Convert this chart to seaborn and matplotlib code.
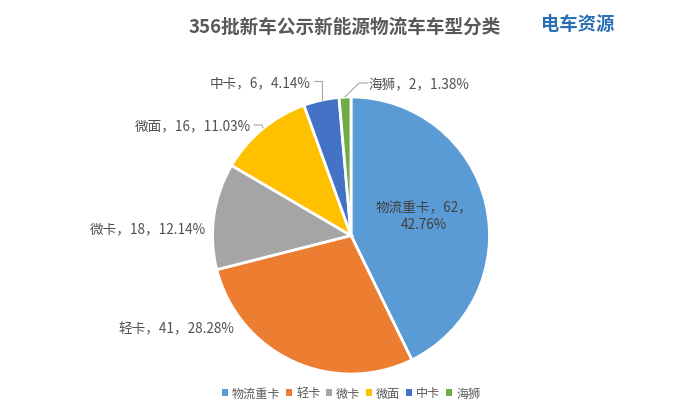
import matplotlib
matplotlib.use("Agg")
import matplotlib.pyplot as plt
from matplotlib.patches import Patch
import seaborn as sns

names = ["物流重卡", "轻卡", "微卡", "微面", "中卡", "海狮"]
counts = [62, 41, 18, 16, 6, 2]
shares = ["42.76%", "28.28%", "12.14%", "11.03%", "4.14%", "1.38%"]
colors = ["#5B9BD5", "#ED7D31", "#A5A5A5", "#FFC000", "#4472C4", "#70AD47"]

sns.set_theme(style="white")
plt.rcParams['font.family'] = ['Noto Sans CJK SC', 'DejaVu Sans']

W, H = 699, 410
fig = plt.figure(figsize=(W / 100, H / 100), dpi=100)

# pie area in pixels
cx, cy, r = 351, 236.5, 138.5
ax = fig.add_axes([(cx - r) / W, 1 - (cy + r) / H, 2 * r / W, 2 * r / H])
wedges, _ = ax.pie(counts, colors=colors, startangle=90, counterclock=False, radius=1,
                   wedgeprops=dict(edgecolor="white", linewidth=2))
ax.set_xlim(-1, 1)
ax.set_ylim(-1, 1)

text_c = "#505050"
def px_text(x, y, s, **kw):
    fig.text(x / W, 1 - y / H, s, color=kw.pop("color", text_c), fontsize=kw.pop("fontsize", 9.8),
             ha=kw.pop("ha", "center"), va="center", **kw)

# data labels
def lab(i):
    return names[i] + "，" + str(counts[i]) + "，" + shares[i]

px_text(424, 216.5, names[0] + "，" + str(counts[0]) + "，\n" + shares[0], linespacing=1.3, color="#404040")
px_text(176, 329, lab(1))
px_text(148, 229, lab(2))
px_text(193, 126, lab(3))
px_text(260, 83, lab(4))
px_text(419, 85, lab(5))

# leader lines
def px_line(xs, ys):
    fig.add_artist(plt.Line2D([x / W for x in xs], [1 - y / H for y in ys],
                              color="#A6A6A6", linewidth=0.8))

px_line([314, 322, 322], [82, 82, 101])
px_line([368, 359, 345], [84, 84, 98])
px_line([254, 262, 263], [126, 126, 129])

# title and logo
px_text(345, 27, "356批新车公示新能源物流车车型分类", fontsize=13.4, fontweight="bold", color="#595959")
px_text(578, 24, "电车资源", fontsize=13.2, fontweight="bold", color="#2A6FB5")

# legend
handles = [Patch(facecolor=c, edgecolor="none") for c in colors]
leg = fig.legend(handles, names, loc="center", bbox_to_anchor=(351 / W, 1 - 394 / H), ncol=6,
                 frameon=False, fontsize=8.7, handlelength=0.5, handleheight=0.5,
                 handletextpad=0.35, columnspacing=0.45, labelcolor="#595959")

fig.savefig("out.png", dpi=100)
